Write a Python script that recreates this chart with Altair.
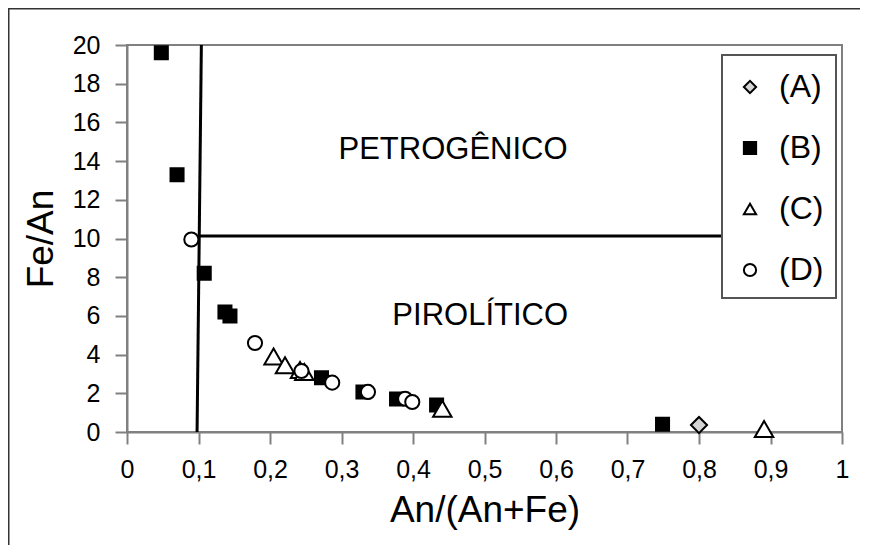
import altair as alt
import pandas as pd

# Series data
a_x = [0.80]
a_y = [0.36]
b_x = [0.048, 0.070, 0.108, 0.137, 0.144, 0.272, 0.330, 0.377, 0.433, 0.749]
b_y = [19.6, 13.3, 8.2, 6.2, 6.0, 2.8, 2.07, 1.7, 1.4, 0.4]
c_x = [0.205, 0.221, 0.242, 0.248, 0.441, 0.891]
c_y = [3.9, 3.45, 3.2, 3.1, 1.2, 0.15]
d_x = [0.090, 0.179, 0.244, 0.287, 0.337, 0.389, 0.399]
d_y = [9.95, 4.6, 3.15, 2.55, 2.07, 1.72, 1.55]

series = ["(A)", "(B)", "(C)", "(D)"]
fills = ["#d4d4d4", "#000000", "#ffffff", "#ffffff"]
strokes = ["#000000", "#000000", "#000000", "#000000"]
shapes = ["diamond", "square", "triangle-up", "circle"]
sizes = [260, 170, 340, 200]

# Boundary lines
v_x = [0.098, 0.104]
v_y = [0.0, 20.0]
h_x = [0.100, 0.834]
h_y = [10.13, 10.13]

# Region labels
reg_text = ["PETROGÊNICO", "PIROLÍTICO"]
reg_x = [0.456, 0.494]
reg_y = [14.55, 6.0]

x_ticks = [0, 0.1, 0.2, 0.3, 0.4, 0.5, 0.6, 0.7, 0.8, 0.9, 1]
y_ticks = [0, 2, 4, 6, 8, 10, 12, 14, 16, 18, 20]

rows = []
for name, xs, ys in zip(series, [a_x, b_x, c_x, d_x], [a_y, b_y, c_y, d_y]):
    for xv, yv in zip(xs, ys):
        rows.append({"s": name, "x": xv, "y": yv})
pts = pd.DataFrame(rows)

FONT = "Liberation Sans"

xscale = alt.Scale(domain=[0, 1], nice=False)
yscale = alt.Scale(domain=[0, 20], nice=False)

xaxis = alt.Axis(
    values=x_ticks,
    labelExpr="replace(format(datum.value, '~g'), '.', ',')",
    title="An/(An+Fe)",
    grid=False,
    labelOverlap=False,
    labelFlush=False,
)
yaxis = alt.Axis(values=y_ticks, title="Fe/An", grid=False, labelOverlap=False, labelFlush=False)

point_layers = []
for name, sz in zip(series, sizes):
    point_layers.append(
        alt.Chart(pts).transform_filter(alt.datum.s == name).mark_point(
            filled=True, strokeWidth=2, opacity=1, size=sz
        ).encode(
            x=alt.X("x:Q", scale=xscale, axis=xaxis),
            y=alt.Y("y:Q", scale=yscale, axis=yaxis),
            shape=alt.Shape("s:N", scale=alt.Scale(domain=series, range=shapes), title=" "),
            fill=alt.Fill("s:N", scale=alt.Scale(domain=series, range=fills), title=" "),
            stroke=alt.Stroke("s:N", scale=alt.Scale(domain=series, range=strokes), title=" "),
        )
    )

vline = alt.Chart(pd.DataFrame({"x": [v_x[0]], "x2": [v_x[1]], "y": [v_y[0]], "y2": [v_y[1]]})).mark_rule(
    color="black", strokeWidth=3
).encode(x=alt.X("x:Q", scale=xscale, axis=xaxis), x2="x2:Q", y=alt.Y("y:Q", scale=yscale, axis=yaxis), y2="y2:Q")

hline = alt.Chart(pd.DataFrame({"x": [h_x[0]], "x2": [h_x[1]], "y": [h_y[0]], "y2": [h_y[1]]})).mark_rule(
    color="black", strokeWidth=3
).encode(x=alt.X("x:Q", scale=xscale, axis=xaxis), x2="x2:Q", y=alt.Y("y:Q", scale=yscale, axis=yaxis), y2="y2:Q")

labels = alt.Chart(pd.DataFrame({"t": reg_text, "x": reg_x, "y": reg_y})).mark_text(
    font=FONT, fontSize=31, color="black", baseline="middle", align="center"
).encode(x=alt.X("x:Q", scale=xscale, axis=xaxis), y=alt.Y("y:Q", scale=yscale, axis=yaxis), text="t:N")

dummy = pd.DataFrame({"a": [0]})
frame_left = alt.Chart(dummy).mark_rule(color="#333333", strokeWidth=2).encode(
    x=alt.value(-118.5), y=alt.value(-37), y2=alt.value(530)
)
frame_top = alt.Chart(dummy).mark_rule(color="#333333", strokeWidth=2).encode(
    x=alt.value(-119), x2=alt.value(760), y=alt.value(-36.5)
)

chart = alt.layer(frame_left, frame_top, vline, hline, labels, *point_layers).properties(
    width=715,
    height=387,
    autosize=alt.AutoSizeParams(type="none"),
    padding={"left": 119, "top": 37, "right": 18, "bottom": 113},
).configure_view(
    stroke="#808080", strokeWidth=2
).configure_axis(
    domainColor="#808080",
    domainWidth=2,
    tickColor="#808080",
    tickWidth=2,
    tickSize=12,
    labelFont=FONT,
    labelFontSize=25,
    labelColor="black",
    titleFont=FONT,
    titleFontSize=37,
    titleFontWeight="normal",
    titleColor="black",
).configure_axisX(
    labelPadding=13, titlePadding=10
).configure_axisY(
    labelPadding=15, titlePadding=12
).configure_legend(
    orient="none",
    legendX=595,
    legendY=10,
    strokeColor="#555555",
    strokeWidth=2,
    fillColor="white",
    padding=12,
    titleFontSize=4,
    titlePadding=0,
    rowPadding=29,
    symbolSize=150,
    symbolStrokeWidth=2,
    labelFont=FONT,
    labelFontSize=32,
    labelColor="black",
    labelOffset=13,
)

chart.save("out.html", embed_options={"renderer": "svg", "actions": False})
